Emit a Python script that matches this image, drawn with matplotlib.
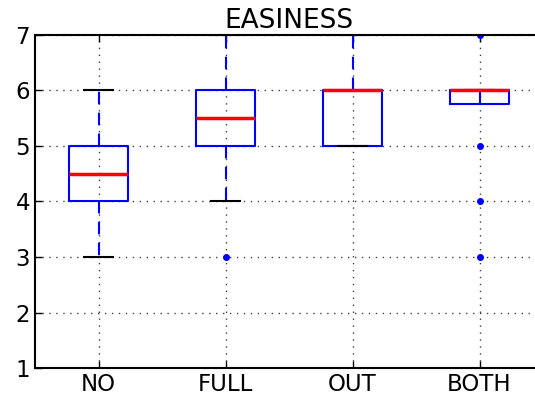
import matplotlib
matplotlib.use("Agg")
import matplotlib.pyplot as plt

categories = ["NO", "FULL", "OUT", "BOTH"]
q1 = [4.0, 5.0, 5.0, 5.75]
medians = [4.5, 5.5, 6.0, 6.0]
q3 = [5.0, 6.0, 6.0, 6.0]
whisker_low = [3.0, 4.0, 5.0, 6.0]
whisker_high = [6.0, 7.0, 7.0, 6.0]
outliers = [[], [3.0], [], [3.0, 4.0, 5.0, 7.0]]

stats = []
for i, name in enumerate(categories):
    stats.append(dict(label=name, q1=q1[i], med=medians[i], q3=q3[i],
                      whislo=whisker_low[i], whishi=whisker_high[i],
                      fliers=outliers[i]))

fig = plt.figure(figsize=(5.35, 3.95), dpi=100)
# the axes run slightly past the right edge of the figure
ax = fig.add_axes([35 / 535, 27 / 395, 508 / 535, 333 / 395])

ax.bxp(stats, widths=0.46,
       boxprops=dict(color="blue", linewidth=1.5),
       medianprops=dict(color="red", linewidth=2.5),
       whiskerprops=dict(color="blue", linestyle="--", linewidth=1.5, dashes=(6, 4)),
       capprops=dict(color="black", linewidth=1.5),
       flierprops=dict(marker="o", markersize=4, markerfacecolor="blue",
                       markeredgecolor="blue", linestyle="none"))

ax.set_xlim(0.5, 4.5)
ax.set_ylim(1, 7)
ax.set_yticks([1, 2, 3, 4, 5, 6, 7])
ax.grid(True, color="black", linestyle=(0, (1, 4)), linewidth=1.0, alpha=0.75)
ax.set_axisbelow(True)
ax.tick_params(direction="in", top=True, right=True, labelsize=16.5, length=5, width=1)
for s in ax.spines.values():
    s.set_linewidth(1.5)
ax.set_title("EASINESS", fontsize=19, pad=5)

fig.savefig("out.png", dpi=100)
